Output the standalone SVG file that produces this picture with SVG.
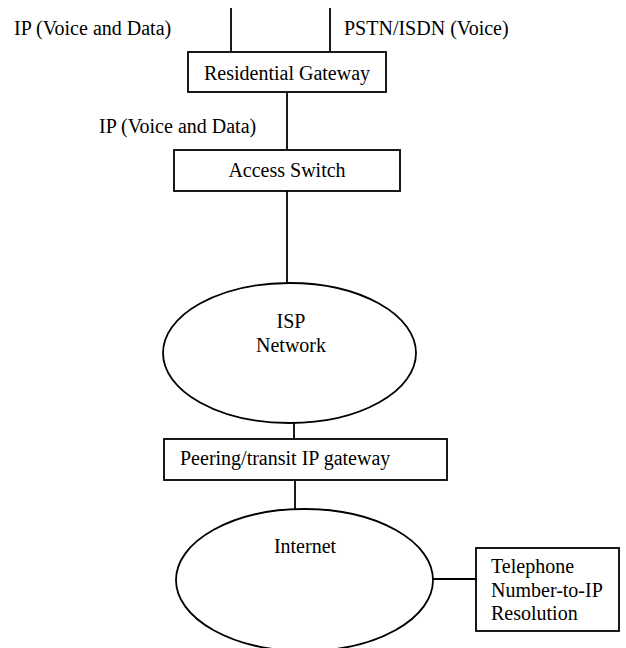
<svg xmlns="http://www.w3.org/2000/svg" width="626" height="648" viewBox="0 0 626 648">
  <style>
    .box { fill: #fff; stroke: #000; stroke-width: 1.8; }
    .link { stroke: #000; stroke-width: 1.8; fill: none; }
    text { font-family: 'Liberation Serif', Tinos, 'Times New Roman', Times, 'Noto Serif', 'DejaVu Serif', serif; font-size: 20px; fill: #000; }
    .c { text-anchor: middle; }
  </style>
  <rect width="626" height="648" fill="#fff"/>

  <!-- connectors -->
  <g id="connectors">
    <line class="link" x1="231" y1="8" x2="231" y2="52"/>
    <line class="link" x1="330" y1="8" x2="330" y2="52"/>
    <line class="link" x1="287" y1="92" x2="287" y2="150"/>
    <line class="link" x1="287" y1="191" x2="287" y2="283"/>
    <line class="link" x1="294" y1="423" x2="294" y2="439"/>
    <line class="link" x1="295" y1="480" x2="295" y2="509"/>
    <line class="link" x1="433" y1="579" x2="476" y2="579"/>
  </g>

  <!-- link labels -->
  <g id="labels">
    <text x="14" y="35">IP (Voice and Data)</text>
    <text x="344" y="35">PSTN/ISDN (Voice)</text>
    <text x="99" y="133">IP (Voice and Data)</text>
  </g>

  <g id="residential-gateway">
    <rect class="box" x="188" y="52" width="198" height="40"/>
    <text class="c" x="287" y="80">Residential Gateway</text>
  </g>

  <g id="access-switch">
    <rect class="box" x="174" y="150" width="226" height="41"/>
    <text class="c" x="287" y="177">Access Switch</text>
  </g>

  <g id="isp-network">
    <ellipse class="box" cx="289.5" cy="353" rx="126.5" ry="70"/>
    <text class="c" x="291" y="328">ISP</text>
    <text class="c" x="291" y="352">Network</text>
  </g>

  <g id="peering-gateway">
    <rect class="box" x="164" y="439" width="283" height="41"/>
    <text x="180" y="465">Peering/transit IP gateway</text>
  </g>

  <g id="internet">
    <ellipse class="box" cx="304.5" cy="580" rx="128.5" ry="71"/>
    <text class="c" x="305" y="553">Internet</text>
  </g>

  <g id="number-resolution">
    <rect class="box" x="476" y="548" width="143" height="83"/>
    <text x="491" y="573">Telephone</text>
    <text x="491" y="596.5">Number-to-IP</text>
    <text x="491" y="620">Resolution</text>
  </g>
</svg>
